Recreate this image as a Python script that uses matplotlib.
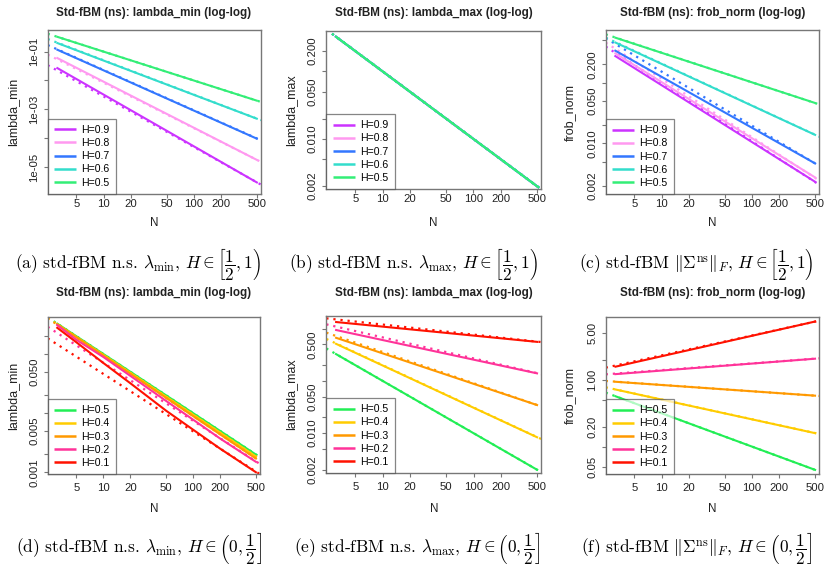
import matplotlib
matplotlib.use('Agg')
import matplotlib.pyplot as plt
from matplotlib.ticker import FixedLocator, FixedFormatter, NullLocator

plt.rcParams['font.family'] = ['Liberation Sans', 'DejaVu Sans']
plt.rcParams['mathtext.fontset'] = 'cm'

# ---------------- data ----------------
labels_hi = ['H=0.9', 'H=0.8', 'H=0.7', 'H=0.6', 'H=0.5']
labels_lo = ['H=0.5', 'H=0.4', 'H=0.3', 'H=0.2', 'H=0.1']
colors_hi = ['#cc33ff', '#ff99f0', '#3377ff', '#33ddcc', '#33ee77']
colors_lo = ['#22ee55', '#ffcc00', '#ff9900', '#ff3399', '#ff1100']

N_two = [3, 512]                       # solid curves (straight in log-log)
N_fit = [2.4, 556]                     # dotted fitted lines
N_d = [3, 5, 10, 20, 50, 100, 200, 512]  # curved panel (d)

# (a) lambda_min, H in [1/2,1)
a_solid = [[0.028, 2.8e-6], [0.062, 1.7e-5], [0.12, 9.3e-5], [0.204, 4.6e-4], [0.333, 1.95e-3]]
a_fit = [[0.034, 2.45e-6], [0.079, 1.5e-5], [0.169, 8.45e-5], [0.274, 4.2e-4], [0.417, 1.8e-3]]
# (b) lambda_max, H in [1/2,1)
b_solid = [[0.333, 1.95e-3]] * 5
b_fit = [[0.417, 1.8e-3]] * 5
# (c) frob_norm, H in [1/2,1)
c_solid = [[0.278, 0.00229], [0.308, 0.0027], [0.340, 0.0046], [0.462, 0.0136], [0.552, 0.0456]]
c_fit = [[0.39, 0.00209], [0.454, 0.00245], [0.535, 0.00427], [0.547, 0.0129], [0.62, 0.0437]]
# (d) lambda_min, H in (0,1/2]
d_solid = [
    [0.333, 0.2, 0.1, 0.05, 0.02, 0.01, 0.005, 0.00195],
    [0.326, 0.1945, 0.0966, 0.048, 0.019, 0.00944, 0.00469, 0.00181],
    [0.324, 0.192, 0.0944, 0.0464, 0.01815, 0.00891, 0.00438, 0.00167],
    [0.316, 0.174, 0.089, 0.0427, 0.0161, 0.00776, 0.00372, 0.00147],
    [0.284, 0.158, 0.0705, 0.032, 0.0110, 0.00525, 0.00251, 0.00098],
]
d_fit = [[0.417, 1.8e-3], [0.407, 1.66e-3], [0.403, 1.55e-3], [0.288, 1.38e-3], [0.184, 9.3e-4]]
# (e) lambda_max, H in (0,1/2]
e_solid = [[0.333, 0.00195], [0.521, 0.0082], [0.676, 0.034], [0.948, 0.138], [1.34, 0.555]]
e_fit = [[0.417, 0.0018], [0.634, 0.00773], [0.836, 0.0325], [1.205, 0.135], [1.57, 0.552]]
# (f) frob_norm, H in (0,1/2]
f_solid = [[0.577, 0.0442], [0.725, 0.158], [0.942, 0.58], [1.22, 2.09], [1.57, 7.59]]
f_fit = [[0.646, 0.0424], [0.776, 0.155], [0.966, 0.575], [1.216, 2.11], [1.53, 7.76]]

x_ticks = [5, 10, 20, 50, 100, 200, 500]

# y ticks (value, label); '' = unlabeled tick
a_yt = [1e-1, 1e-2, 1e-3, 1e-4, 1e-5]
a_yl = ['1e-01', '', '1e-03', '', '1e-05']
b_yt = [0.2, 0.1, 0.05, 0.02, 0.01, 0.005, 0.002]
b_yl = ['0.200', '', '0.050', '', '0.010', '', '0.002']
c_yt = [0.5, 0.2, 0.1, 0.05, 0.02, 0.01, 0.005, 0.002]
c_yl = ['', '0.200', '', '0.050', '', '0.010', '', '0.002']
d_yt = [0.2, 0.1, 0.05, 0.02, 0.01, 0.005, 0.002, 0.001]
d_yl = ['', '', '0.050', '', '', '0.005', '', '0.001']
e_yt = [1.0, 0.5, 0.2, 0.1, 0.05, 0.02, 0.01, 0.005, 0.002]
e_yl = ['', '0.500', '', '', '0.050', '', '0.010', '', '0.002']
f_yt = [5, 2, 1, 0.5, 0.2, 0.1, 0.05]
f_yl = ['5.00', '', '1.00', '', '0.20', '', '0.05']

captions = [
    r'(a) std-fBM n.s. $\lambda_{\min}$, $H\in\left[\dfrac{1}{2},1\right)$',
    r'(b) std-fBM n.s. $\lambda_{\max}$, $H\in\left[\dfrac{1}{2},1\right)$',
    r'(c) std-fBM $\Vert\Sigma^{\mathrm{ns}}\Vert_F$, $H\in\left[\dfrac{1}{2},1\right)$',
    r'(d) std-fBM n.s. $\lambda_{\min}$, $H\in\left(0,\dfrac{1}{2}\right]$',
    r'(e) std-fBM n.s. $\lambda_{\max}$, $H\in\left(0,\dfrac{1}{2}\right]$',
    r'(f) std-fBM $\Vert\Sigma^{\mathrm{ns}}\Vert_F$, $H\in\left(0,\dfrac{1}{2}\right]$',
]
titles = ['Std-fBM (ns): lambda_min (log-log)', 'Std-fBM (ns): lambda_max (log-log)',
          'Std-fBM (ns): frob_norm (log-log)'] * 2
ylabels = ['lambda_min', 'lambda_max', 'frob_norm'] * 2

# ---------------- layout (pixels) ----------------
W, H = 835, 565
fig = plt.figure(figsize=(W / 100, H / 100), dpi=100)

boxes = [  # left, top, right, bottom
    (47.7, 30, 261, 194), (326.3, 30.7, 541, 189.3), (605.7, 30, 819.3, 194.3),
    (47.7, 317.3, 260, 474.3), (326.3, 316, 541.3, 473.3), (605.7, 316.7, 819.3, 474.3),
]
ylims = [(1.16e-6, 0.562), (0.00179, 0.40), (0.00146, 0.73),
         (0.000925, 0.417), (0.00171, 1.74), (0.0384, 8.9)]
xlim = (2.4, 556)
title_x = [154, 434, 712.5] * 2
title_y = [13, 13, 13, 293, 293, 293]
ylab_x = [13.3, 291.3, 570] * 2
N_y = [223, 223, 223, 509, 509, 509]
cap_x = [138, 414, 696, 139, 417, 697]
cap_y = [264, 264, 264, 548, 548, 548]

panels = [
    (N_two, a_solid, a_fit, colors_hi, labels_hi, a_yt, a_yl),
    (N_two, b_solid, b_fit, colors_hi, labels_hi, b_yt, b_yl),
    (N_two, c_solid, c_fit, colors_hi, labels_hi, c_yt, c_yl),
    (N_d, d_solid, d_fit, colors_lo, labels_lo, d_yt, d_yl),
    (N_two, e_solid, e_fit, colors_lo, labels_lo, e_yt, e_yl),
    (N_two, f_solid, f_fit, colors_lo, labels_lo, f_yt, f_yl),
]

frame_col = '#777777'
for i, (Ns, solid, fit, cols, labs, yt, yl) in enumerate(panels):
    l, t, r, b = boxes[i]
    ax = fig.add_axes([l / W, 1 - b / H, (r - l) / W, (b - t) / H])
    ax.set_xscale('log')
    ax.set_yscale('log')
    handles = []
    for k in range(5):
        h, = ax.plot(Ns, solid[k], color=cols[k], lw=1.5, solid_capstyle='butt')
        ax.plot(N_fit, fit[k], color=cols[k], lw=1.6, ls=(0, (1, 2.2)))
        handles.append(h)
    ax.set_xlim(*xlim)
    ax.set_ylim(*ylims[i])
    ax.xaxis.set_major_locator(FixedLocator(x_ticks))
    ax.xaxis.set_major_formatter(FixedFormatter([str(v) for v in x_ticks]))
    ax.xaxis.set_minor_locator(NullLocator())
    ax.yaxis.set_major_locator(FixedLocator(yt))
    ax.yaxis.set_major_formatter(FixedFormatter(yl))
    ax.yaxis.set_minor_locator(NullLocator())
    for s in ax.spines.values():
        s.set_color(frame_col)
        s.set_linewidth(1.0)
    xpad = 0.3 if i < 3 else 3.5
    ax.tick_params(axis='x', length=3.1, width=0.8, color=frame_col, pad=xpad,
                   labelsize=8.2, labelcolor='#222222')
    ax.tick_params(axis='y', length=3.1, width=0.8, color=frame_col, pad=3,
                   labelsize=8.2, labelcolor='#222222', labelrotation=90)
    for lab in ax.get_yticklabels():
        lab.set_va('center')
    leg = ax.legend(handles, labs, loc='lower left', bbox_to_anchor=(0, 0),
                    borderaxespad=0, fontsize=7.6, handlelength=2.1,
                    handletextpad=0.5, labelspacing=0.3, borderpad=0.6,
                    fancybox=False, edgecolor='#444444', framealpha=0.65)
    leg.get_frame().set_linewidth(0.9)
    for ln in leg.get_lines():
        ln.set_linewidth(1.8)

    fig.text(title_x[i] / W, 1 - title_y[i] / H, titles[i], ha='center', va='center',
             fontsize=8.4, fontweight='bold', color='#222222')
    fig.text(ylab_x[i] / W, 1 - ((t + b) / 2) / H, ylabels[i], ha='center', va='center',
             rotation=90, fontsize=9, color='#222222')
    fig.text(((l + r) / 2) / W, 1 - N_y[i] / H, 'N', ha='center', va='center',
             fontsize=8.4, color='#222222')
    fig.text(cap_x[i] / W, 1 - cap_y[i] / H, captions[i], ha='center', va='center',
             fontsize=12.5, family='cmr10')

fig.savefig('out.png', dpi=100)
